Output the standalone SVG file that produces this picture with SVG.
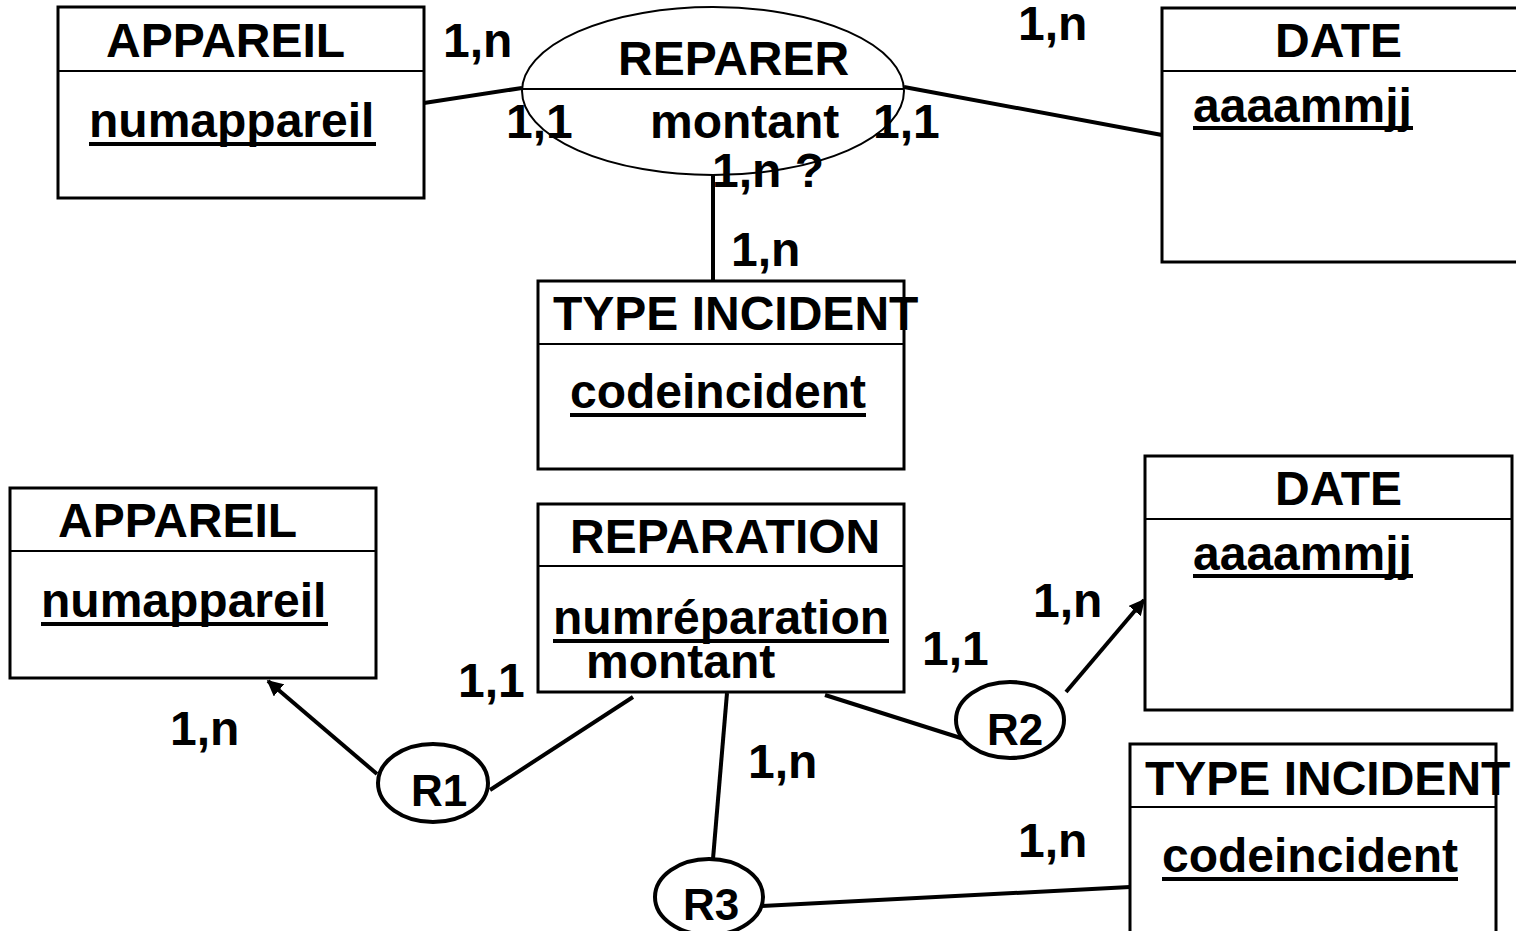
<svg xmlns="http://www.w3.org/2000/svg" width="1516" height="931" viewBox="0 0 1516 931">
  <style>
    .box { fill: #fff; stroke: #000; stroke-width: 3; }
    .div { stroke: #000; stroke-width: 2; }
    .t { font-family: "Liberation Sans", Arial, sans-serif; font-weight: bold; font-size: 48px; fill: #000; }
    .ul { stroke: #000; stroke-width: 4; }
    .r { font-size: 44px; }
    .ln { stroke: #000; stroke-width: 4; fill: none; }
    .rel { fill: #fff; stroke: #000; stroke-width: 4; }
  </style>
  <defs>
    <marker id="arr" viewBox="0 0 10 10" refX="9" refY="5" markerWidth="4" markerHeight="4" orient="auto">
      <path d="M0,0 L10,5 L0,10 z" fill="#000"/>
    </marker>
  </defs>
  <rect width="1516" height="931" fill="#fff"/>

  <!-- connectors -->
  <g id="connectors">
    <line class="ln" x1="424" y1="103" x2="522" y2="88"/>
    <line class="ln" x1="904" y1="87" x2="1162" y2="135"/>
    <line class="ln" x1="713" y1="175" x2="713" y2="281"/>
    <line class="ln" x1="377" y1="774" x2="268" y2="681" marker-end="url(#arr)"/>
    <line class="ln" x1="490" y1="790" x2="633" y2="697"/>
    <line class="ln" x1="825" y1="695" x2="967" y2="740"/>
    <line class="ln" x1="1066" y1="692" x2="1144" y2="600" marker-end="url(#arr)"/>
    <line class="ln" x1="727" y1="693" x2="713" y2="859"/>
    <line class="ln" x1="762" y1="906" x2="1130" y2="887"/>
  </g>

  <!-- top: APPAREIL -->
  <g id="appareil-top">
    <rect class="box" x="58" y="7" width="366" height="191"/>
    <line class="div" x1="58" y1="71" x2="424" y2="71"/>
    <text class="t" x="106" y="57">APPAREIL</text>
    <text class="t" x="89" y="137">numappareil</text>
    <line class="ul" x1="89" y1="144" x2="376" y2="144"/>
  </g>

  <!-- top: REPARER association -->
  <g id="reparer">
    <ellipse cx="713" cy="91" rx="191" ry="84" fill="none" stroke="#000" stroke-width="2"/>
    <line class="div" x1="522" y1="89" x2="904" y2="89"/>
    <text class="t" x="618" y="75">REPARER</text>
    <text class="t" x="650" y="138">montant</text>
  </g>

  <!-- top: DATE -->
  <g id="date-top">
    <rect class="box" x="1162" y="8" width="400" height="254"/>
    <line class="div" x1="1162" y1="71" x2="1516" y2="71"/>
    <text class="t" x="1275" y="57">DATE</text>
    <text class="t" x="1193" y="122">aaaammjj</text>
    <line class="ul" x1="1193" y1="128" x2="1413" y2="128"/>
  </g>

  <!-- top: TYPE INCIDENT -->
  <g id="typeincident-top">
    <rect class="box" x="538" y="281" width="366" height="188"/>
    <line class="div" x1="538" y1="344" x2="904" y2="344"/>
    <text class="t" x="553" y="330">TYPE INCIDENT</text>
    <text class="t" x="570" y="408">codeincident</text>
    <line class="ul" x1="570" y1="415" x2="866" y2="415"/>
  </g>

  <!-- bottom: APPAREIL -->
  <g id="appareil-bottom">
    <rect class="box" x="10" y="488" width="366" height="190"/>
    <line class="div" x1="10" y1="551" x2="376" y2="551"/>
    <text class="t" x="58" y="537">APPAREIL</text>
    <text class="t" x="41" y="617">numappareil</text>
    <line class="ul" x1="41" y1="624" x2="328" y2="624"/>
  </g>

  <!-- bottom: REPARATION -->
  <g id="reparation">
    <rect class="box" x="538" y="504" width="366" height="188"/>
    <line class="div" x1="538" y1="566" x2="904" y2="566"/>
    <text class="t" x="570" y="553">REPARATION</text>
    <text class="t" x="553" y="634">numréparation</text>
    <line class="ul" x1="553" y1="641" x2="889" y2="641"/>
    <text class="t" x="586" y="678">montant</text>
  </g>

  <!-- bottom: DATE -->
  <g id="date-bottom">
    <rect class="box" x="1145" y="456" width="367" height="254"/>
    <line class="div" x1="1145" y1="519" x2="1512" y2="519"/>
    <text class="t" x="1275" y="505">DATE</text>
    <text class="t" x="1193" y="570">aaaammjj</text>
    <line class="ul" x1="1193" y1="576" x2="1413" y2="576"/>
  </g>

  <!-- bottom: TYPE INCIDENT -->
  <g id="typeincident-bottom">
    <rect class="box" x="1130" y="744" width="366" height="240"/>
    <line class="div" x1="1130" y1="807" x2="1496" y2="807"/>
    <text class="t" x="1145" y="795">TYPE INCIDENT</text>
    <text class="t" x="1162" y="872">codeincident</text>
    <line class="ul" x1="1162" y1="879" x2="1458" y2="879"/>
  </g>

  <!-- relations R1, R2, R3 -->
  <g id="r1">
    <ellipse class="rel" cx="433" cy="783" rx="55" ry="39"/>
    <text class="t r" x="411" y="806">R1</text>
  </g>
  <g id="r2">
    <ellipse class="rel" cx="1010" cy="720" rx="54" ry="38"/>
    <text class="t r" x="987" y="745">R2</text>
  </g>
  <g id="r3">
    <ellipse class="rel" cx="709" cy="897" rx="54" ry="38"/>
    <text class="t r" x="683" y="920">R3</text>
  </g>

  <!-- cardinalities -->
  <g id="cardinalities">
    <text class="t" x="443" y="57">1,n</text>
    <text class="t" x="506" y="138">1,1</text>
    <text class="t" x="873" y="138">1,1</text>
    <text class="t" x="712" y="187">1,n ?</text>
    <text class="t" x="731" y="266">1,n</text>
    <text class="t" x="1018" y="40">1,n</text>
    <text class="t" x="170" y="745">1,n</text>
    <text class="t" x="458" y="697">1,1</text>
    <text class="t" x="922" y="665">1,1</text>
    <text class="t" x="1033" y="617">1,n</text>
    <text class="t" x="748" y="778">1,n</text>
    <text class="t" x="1018" y="857">1,n</text>
  </g>
</svg>
